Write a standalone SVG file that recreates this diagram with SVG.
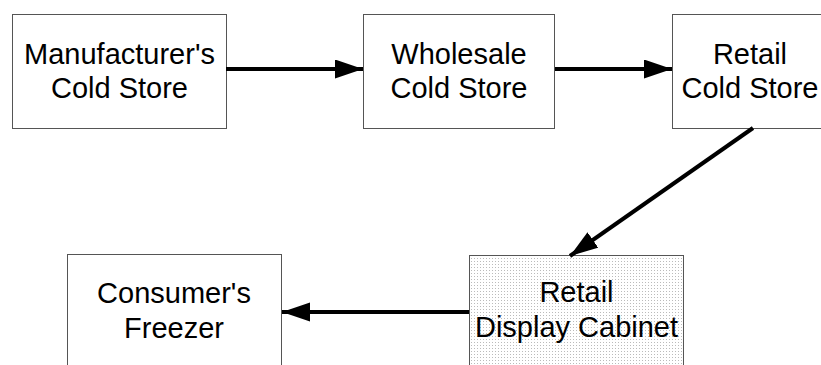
<svg xmlns="http://www.w3.org/2000/svg" width="821" height="365" viewBox="0 0 821 365">
<style>
.box{fill:#fff;stroke:#555;stroke-width:1}
.dot{fill:url(#dots);stroke:#555;stroke-width:1}
.t{font-family:"Liberation Sans",Arial,sans-serif;font-size:29px;fill:#000;text-anchor:middle}
.c{stroke:#000;stroke-width:4;fill:none;marker-end:url(#ah)}
</style>
<defs>
<pattern id="dots" width="3" height="3" patternUnits="userSpaceOnUse">
<rect width="3" height="3" fill="#fff"/>
<rect width="1" height="1" fill="#bbb"/>
</pattern>
<marker id="ah" markerUnits="userSpaceOnUse" markerWidth="30" markerHeight="20" refX="28" refY="9.5" orient="auto">
<path d="M0,0 L28,9.5 L0,19 Z" fill="#000"/>
</marker>
</defs>
<g id="n1"><rect class="box" x="12.5" y="14.5" width="214" height="114"/>
<text class="t" x="119.5" y="64">Manufacturer's</text><text class="t" x="119.5" y="98">Cold Store</text></g>
<g id="n2"><rect class="box" x="363.5" y="14.5" width="191" height="114"/>
<text class="t" x="459" y="64">Wholesale</text><text class="t" x="459" y="98">Cold Store</text></g>
<g id="n3"><rect class="box" x="672.5" y="14.5" width="214" height="114"/>
<text class="t" x="750" y="64">Retail</text><text class="t" x="750" y="98">Cold Store</text></g>
<g id="n4"><rect class="box" x="67.5" y="254.5" width="214" height="130"/>
<text class="t" x="174" y="303">Consumer's</text><text class="t" x="174" y="338">Freezer</text></g>
<g id="n5"><rect class="dot" x="469.5" y="255.5" width="214" height="130"/>
<text class="t" x="576.5" y="302">Retail</text><text class="t" x="576.5" y="337">Display Cabinet</text></g>
<g id="connectors">
<line class="c" x1="226" y1="69" x2="363" y2="69"/>
<line class="c" x1="555" y1="69" x2="672" y2="69"/>
<line class="c" x1="753" y1="128" x2="570" y2="256"/>
<line class="c" x1="469" y1="312" x2="282" y2="312"/>
</g>
</svg>
